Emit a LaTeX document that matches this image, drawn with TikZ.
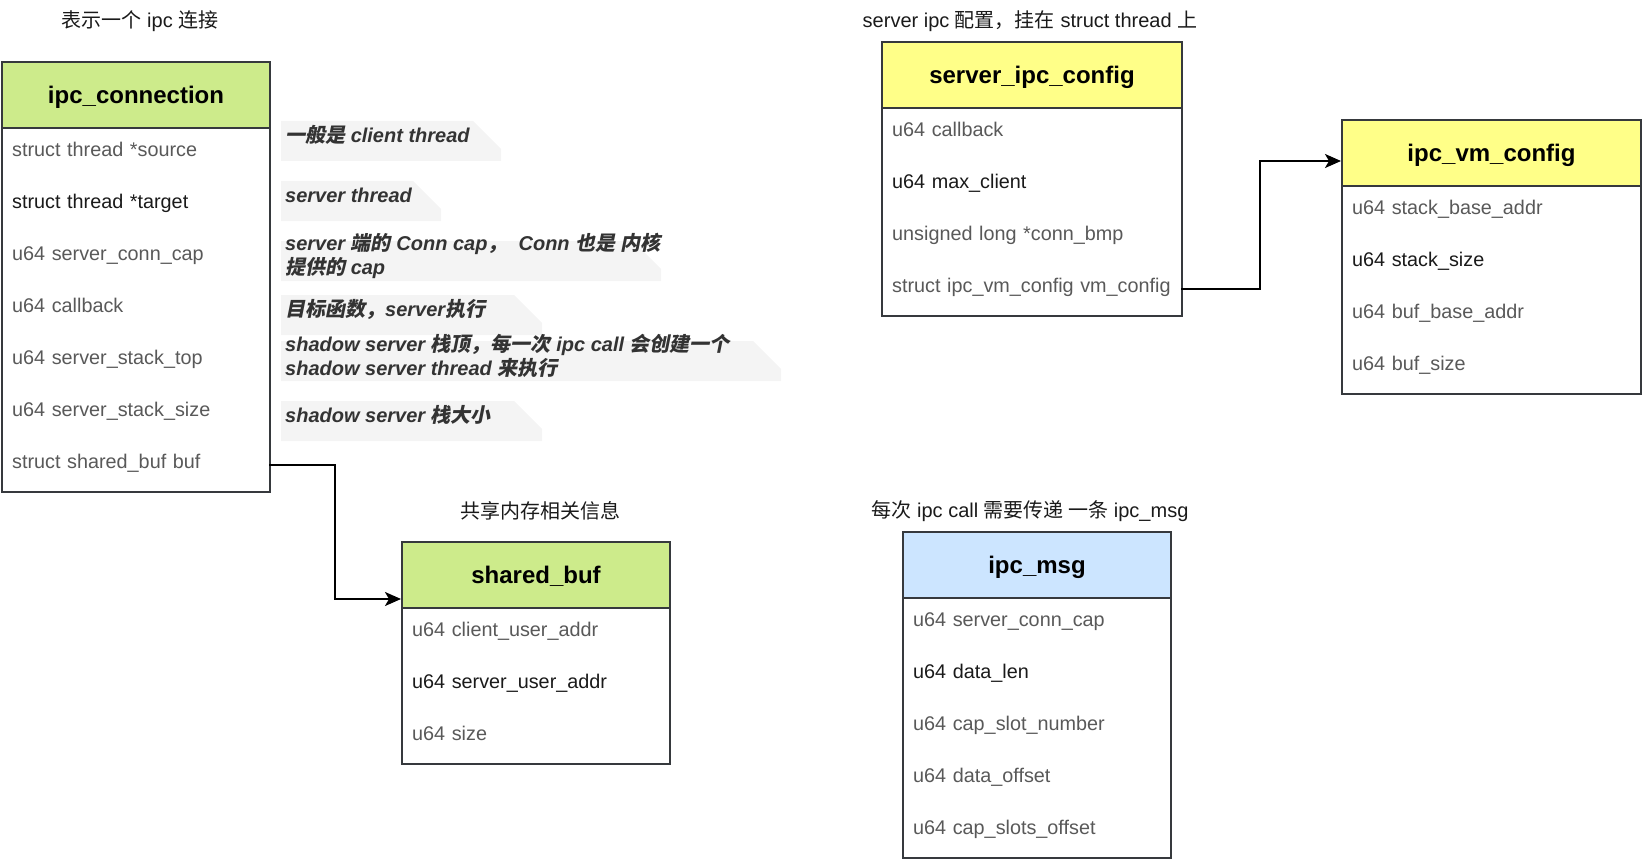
\documentclass[tikz,border=0pt]{standalone}
\usepackage{fontspec}
\setmainfont{Liberation Sans}
\newfontfamily\cjk{Noto Sans CJK SC}
\newfontfamily\cjkbi{Noto Sans CJK SC Bold}[FakeSlant=0.2]
\usetikzlibrary{arrows.meta,calc}
\definecolor{hgreen}{HTML}{CDEB8B}
\definecolor{hyellow}{HTML}{FFFF88}
\definecolor{hblue}{HTML}{CCE5FF}
\definecolor{bord}{HTML}{36393D}
\definecolor{greytxt}{HTML}{595959}
\definecolor{darktxt}{HTML}{1A1A1A}
\definecolor{annfill}{HTML}{F4F4F4}
\definecolor{anntxt}{HTML}{333333}
\tikzset{
  hdr/.style={draw=bord, line width=2pt, minimum height=66pt, inner sep=0pt, anchor=north west,
    text height=22.5pt, text depth=5pt,
    font=\fontsize{24}{28}\selectfont\bfseries, text=black},
  body/.style={draw=bord, line width=2pt, fill=white, inner sep=0pt, anchor=north west},
  fld/.style={minimum height=52pt, inner xsep=11pt, inner ysep=0pt, align=left, anchor=north west,
    text height=11pt, text depth=5pt,
    font=\fontsize{19.8}{23.5}\selectfont, text=greytxt},
  fldd/.style={fld, text=darktxt},
  captxt/.style={font=\fontsize{20}{24}\selectfont, text=darktxt, inner sep=0pt},
  anntext/.style={font=\fontsize{20}{24}\selectfont\bfseries\itshape, text=anntxt, inner sep=0pt,
    anchor=west, align=left},
  arr/.style={-{Stealth[length=16pt,width=14pt,inset=4pt]}, line width=2pt, black},
}
\newcommand\annbox[4]{\fill[annfill] (#1,#2) -- ({#3-28},#2) -- (#3,{#2+28}) -- (#3,#4) -- (#1,#4) -- cycle;}
\begin{document}
\begin{tikzpicture}[x=1pt,y=-1pt]
\useasboundingbox (0,0) rectangle (1642,864);
% captions
\node[captxt] (cap1) at (140,21) {{\cjk 表示一个} ipc {\cjk 连接}};
\node[captxt] (cap2) at (1030,21) {server ipc {\cjk 配置，挂在} struct thread {\cjk 上}};
\node[captxt] (cap3) at (540,511) {{\cjk 共享内存相关信息}};
\node[captxt] (cap4) at (1030,511) {{\cjk 每次} ipc call {\cjk 需要传递 一条} ipc\_msg};

% ipc_connection
\node[body, minimum width=268pt, minimum height=364pt] (connbody) at (1,127) {};
\node[hdr, fill=hgreen, minimum width=268pt] (conn) at (1,61) {ipc\_connection};
\node[fld,  text width=246pt] (c1) at (1,127) {struct thread *source};
\node[fldd, text width=246pt] (c2) at (1,179) {struct thread *target};
\node[fld,  text width=246pt] (c3) at (1,231) {u64 server\_conn\_cap};
\node[fld,  text width=246pt] (c4) at (1,283) {u64 callback};
\node[fld,  text width=246pt] (c5) at (1,335) {u64 server\_stack\_top};
\node[fld,  text width=246pt] (c6) at (1,387) {u64 server\_stack\_size};
\node[fld,  text width=246pt] (c7) at (1,439) {struct shared\_buf buf};

% annotations
\annbox{281}{121}{501}{161}
\node[anntext] (a1) at (285,135) {{\cjkbi 一般是} client thread};
\annbox{281}{181}{441}{221}
\node[anntext] (a2) at (285,195) {server thread};
\annbox{281}{241}{661}{281}
\node[anntext] (a3) at (285,256) {server {\cjkbi 端的} Conn cap{\cjkbi ，}\ \ Conn {\cjkbi 也是}\ {\cjkbi 内核}\\{\cjkbi 提供的} cap};
\annbox{281}{295}{542}{335}
\node[anntext] (a4) at (285,309) {{\cjkbi 目标函数，}server{\cjkbi 执行}};
\annbox{281}{341}{781}{381}
\node[anntext] (a5) at (285,356) {shadow server {\cjkbi 栈顶，每一次} ipc call {\cjkbi 会创建一个}\\shadow server thread {\cjkbi 来执行}};
\annbox{281}{401}{542}{441}
\node[anntext] (a6) at (285,415) {shadow server {\cjkbi 栈大小}};

% server_ipc_config
\node[body, minimum width=300pt, minimum height=208pt] (scfgbody) at (881,107) {};
\node[hdr, fill=hyellow, minimum width=300pt] (scfg) at (881,41) {server\_ipc\_config};
\node[fld,  text width=278pt] (s1) at (881,107) {u64 callback};
\node[fldd, text width=278pt] (s2) at (881,159) {u64 max\_client};
\node[fld,  text width=278pt] (s3) at (881,211) {unsigned long *conn\_bmp};
\node[fld,  text width=278pt] (s4) at (881,263) {\mbox{struct ipc\_vm\_config vm\_config}};

% ipc_vm_config
\node[body, minimum width=299pt, minimum height=208pt] (vmbody) at (1341,185) {};
\node[hdr, fill=hyellow, minimum width=299pt] (vm) at (1341,119) {ipc\_vm\_config};
\node[fld,  text width=277pt] (v1) at (1341,185) {u64 stack\_base\_addr};
\node[fldd, text width=277pt] (v2) at (1341,237) {u64 stack\_size};
\node[fld,  text width=277pt] (v3) at (1341,289) {u64 buf\_base\_addr};
\node[fld,  text width=277pt] (v4) at (1341,341) {u64 buf\_size};

% shared_buf
\node[body, minimum width=268pt, minimum height=156pt] (sbbody) at (401,607) {};
\node[hdr, fill=hgreen, minimum width=268pt] (sb) at (401,541) {shared\_buf};
\node[fld,  text width=246pt] (b1) at (401,607) {u64 client\_user\_addr};
\node[fldd, text width=246pt] (b2) at (401,659) {u64 server\_user\_addr};
\node[fld,  text width=246pt] (b3) at (401,711) {u64 size};

% ipc_msg
\node[body, minimum width=268pt, minimum height=260pt] (msgbody) at (902,597) {};
\node[hdr, fill=hblue, minimum width=268pt] (msg) at (902,531) {ipc\_msg};
\node[fld,  text width=246pt] (m1) at (902,597) {u64 server\_conn\_cap};
\node[fldd, text width=246pt] (m2) at (902,649) {u64 data\_len};
\node[fld,  text width=246pt] (m3) at (902,701) {u64 cap\_slot\_number};
\node[fld,  text width=246pt] (m4) at (902,753) {u64 data\_offset};
\node[fld,  text width=246pt] (m5) at (902,805) {u64 cap\_slots\_offset};

% connectors
\coordinate (sbin) at ($(sb.south west)+(0,-10)$);
\coordinate (vmin) at ($(vm.north west)+(0,42)$);
\draw[arr] (c7.east) -- ++(66,0) |- (sbin);
\draw[arr] (s4.east) -- ++(79,0) |- (vmin);
\end{tikzpicture}
\end{document}
